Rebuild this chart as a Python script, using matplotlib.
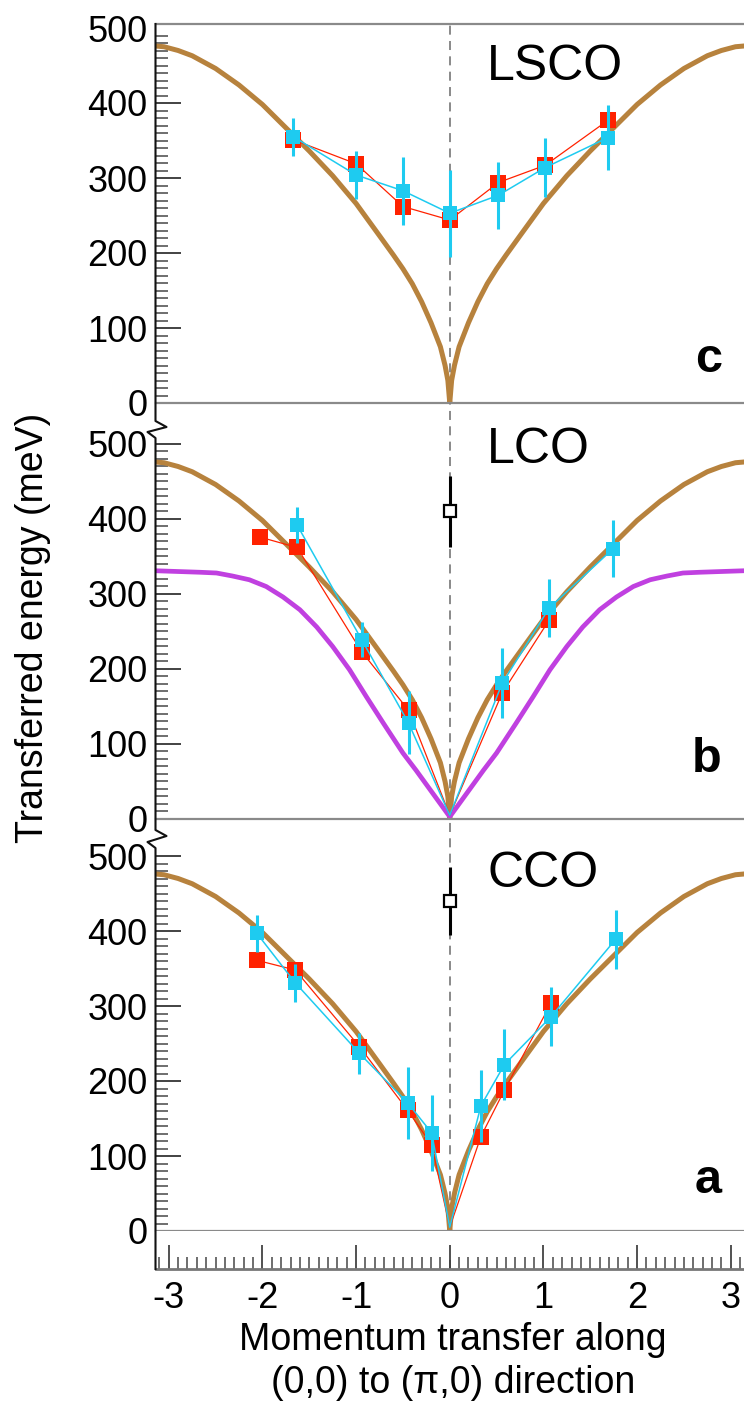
import numpy as np
import matplotlib
matplotlib.use('Agg')
import matplotlib.pyplot as plt
from matplotlib.ticker import FixedLocator, MultipleLocator
from matplotlib.lines import Line2D

plt.rcParams['font.family'] = ['Liberation Sans', 'DejaVu Sans']

# ---------------- data ----------------
# spin-wave dispersion (brown curve)
sw_q = [-3.1416, -3.05, -2.9, -2.75, -2.5, -2.25, -2.0, -1.75, -1.5, -1.25, -1.0, -0.75, -0.6, -0.5, -0.4,
        -0.3, -0.2, -0.1, -0.05, -0.02, 0.0,
        0.02, 0.05, 0.1, 0.2, 0.3, 0.4, 0.5, 0.6, 0.75, 1.0, 1.25, 1.5, 1.75, 2.0, 2.25, 2.5, 2.75, 2.9,
        3.05, 3.1416]
sw_E = [476, 475, 470, 463, 446, 424, 398, 367, 336, 303, 266, 223, 197, 179, 159,
        135, 107, 75, 50, 30, 0,
        30, 50, 75, 107, 135, 159, 179, 197, 223, 266, 303, 336, 367, 398, 424, 446, 463, 470,
        475, 476]
# magenta curve (LCO panel)
mg_q = [-3.1416, -2.67, -2.49, -2.32, -2.14, -1.96, -1.78, -1.6, -1.42, -1.25, -1.07, -0.89, -0.71,
        -0.5, -0.36, -0.18, 0.0,
        0.18, 0.36, 0.5, 0.71, 0.89, 1.07, 1.25, 1.42, 1.6, 1.78, 1.96, 2.14, 2.32, 2.49, 2.67, 3.1416]
mg_E = [331, 329, 328, 324, 319, 310, 296, 279, 256, 230, 199, 163, 128,
        88, 65, 34, 3,
        34, 65, 88, 128, 163, 199, 230, 256, 279, 296, 310, 319, 324, 328, 329, 331]

origin_E = 5  # lines of the LCO / CCO series run down to the origin

# LSCO (panel c)
lsco_red_q = [-1.67, -1.00, -0.50, 0.00, 0.52, 1.02, 1.69]
lsco_red_E = [351, 319, 262, 244, 294, 317, 377]
lsco_cyan_q = [-1.67, -1.00, -0.50, 0.00, 0.52, 1.02, 1.69]
lsco_cyan_E = [355, 304, 283, 253, 277, 314, 354]
lsco_cyan_err = [25, 32, 45, 58, 45, 39, 43]

# LCO (panel b)
lco_red_q = [-2.03, -1.63, -0.94, -0.44, 0.56, 1.06]
lco_red_E = [376, 362, 223, 145, 168, 265]
lco_cyan_q = [-1.63, -0.94, -0.44, 0.56, 1.06, 1.74]
lco_cyan_E = [392, 239, 128, 181, 281, 360]
lco_cyan_err = [24, 23, 42, 47, 39, 38]
lco_open_q, lco_open_E, lco_open_err = [0.0], [410], [47]

# CCO (panel a)
cco_red_q = [-2.06, -1.65, -0.965, -0.45, -0.194, 0.333, 0.584, 1.083]
cco_red_E = [361, 348, 246, 161, 115, 126, 188, 304]
cco_cyan_q = [-2.06, -1.65, -0.965, -0.45, -0.194, 0.333, 0.584, 1.083, 1.772]
cco_cyan_E = [397, 331, 237, 171, 131, 167, 222, 286, 389]
cco_cyan_err = [25, 25, 27, 48, 51, 48, 47, 39, 39]
cco_open_q, cco_open_E, cco_open_err = [0.0], [440], [45]

x_ticks = [-3, -2, -1, 0, 1, 2, 3]
x_ticklabels = ['-3', '-2', '-1', '0', '1', '2', '3']
y_ticks = [0, 100, 200, 300, 400, 500]
y_ticklabels = ['0', '100', '200', '300', '400', '500']

BROWN = '#B7823D'
MAGENTA = '#C040E0'
RED = '#FF2200'
CYAN = '#1ECBF0'

# ---------------- layout ----------------
W, H = 744, 1414
fig = plt.figure(figsize=(W / 100, H / 100), dpi=100)
L, R = 155.5, 744
PX = 0.75  # pixels per meV


def add_axes(top_px, bot_px):
    return fig.add_axes([L / W, 1 - bot_px / H, (R - L) / W, (bot_px - top_px) / H])


ax_c = add_axes(24, 403)
ax_b = add_axes(403, 819)
ax_a = add_axes(819, 1231)
ax_x = add_axes(1231, 1269)

for ax, top, bot in [(ax_c, 24, 403), (ax_b, 403, 819), (ax_a, 819, 1231)]:
    ax.set_xlim(-np.pi, np.pi)
    ax.set_ylim(0, (bot - top) / PX)
    ax.set_xticks([])
    ax.yaxis.set_major_locator(FixedLocator(y_ticks))
    ax.set_yticklabels(y_ticklabels, fontsize=26)
    ax.yaxis.set_minor_locator(FixedLocator([v for v in range(10, 500, 10) if v % 100]))
    ax.tick_params(axis='y', which='major', direction='in', length=18, width=1.2,
                   color='#222222', pad=6)
    ax.tick_params(axis='y', which='minor', direction='in', length=8.5, width=1.2,
                   color='#555555')
    for s in ['left', 'right', 'top']:
        ax.spines[s].set_visible(False)
    ax.spines['bottom'].set_color('#8a8a8a')
    ax.spines['bottom'].set_linewidth(1.6)
    ax.axvline(0, color='#808080', lw=1.3, ls=(0, (5, 3.5)), zorder=1)
    ax.patch.set_alpha(0)

ax_c.spines['top'].set_visible(True)
ax_c.spines['top'].set_color('#8a8a8a')
ax_c.spines['top'].set_linewidth(1.6)
ax_c.yaxis.get_major_ticks()[-1].tick1line.set_visible(False)

# bottom strip carrying the momentum ticks
ax_x.set_xlim(-np.pi, np.pi)
ax_x.set_ylim(0, 1)
ax_x.set_yticks([])
ax_x.xaxis.set_major_locator(FixedLocator(x_ticks))
ax_x.set_xticklabels(x_ticklabels, fontsize=26)
ax_x.xaxis.set_minor_locator(MultipleLocator(0.1))
ax_x.tick_params(axis='x', which='major', direction='in', length=17, width=1.2,
                 color='#333333', pad=9)
ax_x.tick_params(axis='x', which='minor', direction='in', length=8.5, width=1.2,
                 color='#555555')
for s in ['left', 'right', 'top']:
    ax_x.spines[s].set_visible(False)
ax_x.spines['bottom'].set_color('#777777')
ax_x.spines['bottom'].set_linewidth(2.0)
ax_x.axvline(0, color='#808080', lw=1.3, ls=(0, (5, 3.5)), ymax=0.4, zorder=1)

# left axis line with break marks
lx = [L, L, L + 11, L - 8, L, L, L + 11, L - 8, L, L]
ly = [24, 421, 427, 432, 438, 830, 836, 842, 848, 1269]
fig.add_artist(Line2D([x / W for x in lx], [1 - y / H for y in ly],
                      transform=fig.transFigure, color='#111111', lw=1.5))


# ---------------- drawing ----------------
def draw_series(ax, q, E, err, color, ms, lw, through_origin, z):
    lq, lE = list(q), list(E)
    if through_origin:
        pts = sorted(zip(lq + [0.0], lE + [origin_E]))
        lq = [p[0] for p in pts]
        lE = [p[1] for p in pts]
    ax.plot(lq, lE, '-', color=color, lw=lw, zorder=z)
    if err is not None:
        ax.errorbar(q, E, yerr=err, fmt='none', ecolor=color, elinewidth=2.2,
                    capsize=0, zorder=z)
    ax.plot(q, E, 's', color=color, ms=ms, mew=0, zorder=z + 0.5)


for ax in (ax_c, ax_b, ax_a):
    ax.plot(sw_q, sw_E, color=BROWN, lw=3.6, zorder=2, solid_joinstyle='round')
ax_b.plot(mg_q, mg_E, color=MAGENTA, lw=3.4, zorder=2.2, solid_joinstyle='round')

draw_series(ax_c, lsco_red_q, lsco_red_E, None, RED, 11, 0.9, False, 3)
draw_series(ax_c, lsco_cyan_q, lsco_cyan_E, lsco_cyan_err, CYAN, 9.5, 1.1, False, 4)

draw_series(ax_b, lco_red_q, lco_red_E, None, RED, 11, 0.9, True, 3)
draw_series(ax_b, lco_cyan_q, lco_cyan_E, lco_cyan_err, CYAN, 9.5, 1.1, True, 4)

draw_series(ax_a, cco_red_q, cco_red_E, None, RED, 11, 0.9, True, 3)
draw_series(ax_a, cco_cyan_q, cco_cyan_E, cco_cyan_err, CYAN, 9.5, 1.1, True, 4)

for ax, q, E, e in [(ax_b, lco_open_q, lco_open_E, lco_open_err),
                    (ax_a, cco_open_q, cco_open_E, cco_open_err)]:
    ax.errorbar(q, E, yerr=e, fmt='none', ecolor='black', elinewidth=2.2, capsize=0, zorder=5)
    ax.plot(q, E, 's', mfc='white', mec='black', mew=1.6, ms=8.5, zorder=6)

# ---------------- text ----------------
for txt, yb in [('LSCO', 80), ('LCO', 463), ('CCO', 887)]:
    fig.text(487 / W, 1 - yb / H, txt, ha='left', va='baseline', fontsize=36)
for txt, yb in [('c', 372), ('b', 772), ('a', 1193)]:
    fig.text(722 / W, 1 - yb / H, txt, ha='right', va='baseline', fontsize=35,
             fontweight='bold')

fig.text(33 / W, 1 - 628 / H, 'Transferred energy (meV)', rotation=90,
         ha='center', va='center', fontsize=27)
fig.text(453 / W, 1 - 1340 / H, 'Momentum transfer along', ha='center', va='center',
         fontsize=27)
fig.text(453 / W, 1 - 1383 / H, '(0,0) to (\u03c0,0) direction', ha='center', va='center',
         fontsize=27)

fig.savefig('out.png', dpi=100)
